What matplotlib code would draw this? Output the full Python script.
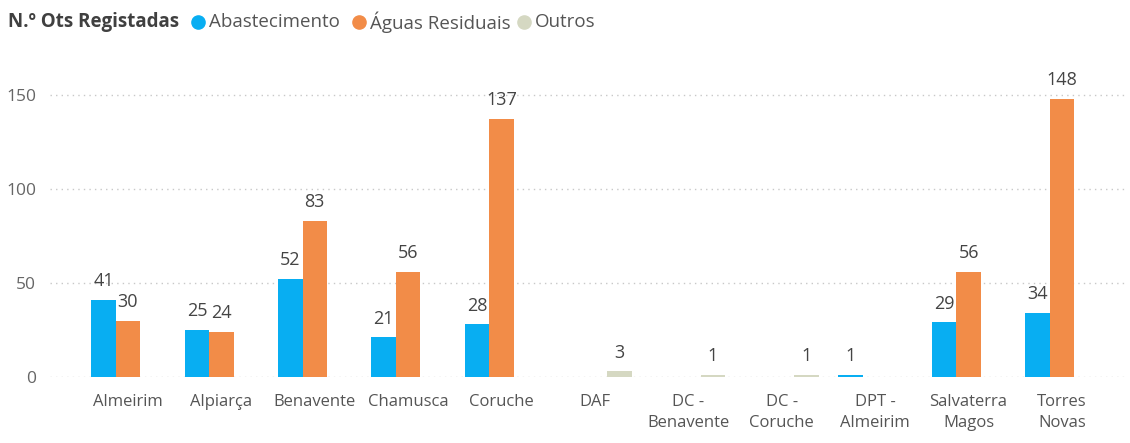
import numpy as np
import matplotlib.pyplot as plt
from matplotlib.lines import Line2D

categories = ['Almeirim', 'Alpiarça', 'Benavente', 'Chamusca', 'Coruche', 'DAF',
              'DC -\nBenavente', 'DC -\nCoruche', 'DPT -\nAlmeirim', 'Salvaterra\nMagos',
              'Torres\nNovas']
abastecimento = [41, 25, 52, 21, 28, 0, 0, 0, 1, 29, 34]
aguas_residuais = [30, 24, 83, 56, 137, 0, 0, 0, 0, 56, 148]
outros = [0, 0, 0, 0, 0, 3, 1, 1, 0, 0, 0]

series = [('Abastecimento', abastecimento, '#08AEF2'),
          ('Águas Residuais', aguas_residuais, '#F28C48'),
          ('Outros', outros, '#D5D8C2')]

plt.rcParams['font.family'] = ['Open Sans', 'DejaVu Sans']

W, H = 1130, 443
fig = plt.figure(figsize=(W / 100, H / 100), dpi=100)
ax = fig.add_axes([50 / W, (H - 377) / H, 1075 / W, 318 / H])

x = np.arange(len(categories))
width = 0.262
for i, (name, vals, color) in enumerate(series):
    pos = x + (i - 1) * width
    ax.bar(pos, vals, width=width, color=color, zorder=3)
    for xp, v in zip(pos, vals):
        if v > 0:
            ax.annotate(str(v), (xp, v), xytext=(0, 7), textcoords='offset points',
                        ha='center', va='bottom', fontsize=13, color='#444444')

ax.set_xlim((50 - 128) / 93.4, (1125 - 128) / 93.4)
ax.set_ylim(0, 169)
ax.set_yticks([0, 50, 100, 150])
ax.set_xticks(x)
ax.set_xticklabels(categories, fontsize=12, color='#555555', linespacing=1.45)
ax.tick_params(axis='y', labelsize=12.5, labelcolor='#666666', length=0, pad=10)
ax.tick_params(axis='x', length=0, pad=12)
ax.grid(axis='y', color='#C8C8C8', linestyle=(0, (1, 3)), linewidth=1, zorder=0)
for s in ax.spines.values():
    s.set_visible(False)

# title + legend row
ty = 1 - 22 / H
fig.text(8 / W, ty, 'N.º Ots Registadas', fontsize=13.5, fontweight='bold',
         color='#404040', va='center')
marker_x = [198, 359, 524]
for (name, vals, color), px in zip(series, marker_x):
    fig.add_artist(Line2D([px / W], [ty], marker='o', markersize=9.5,
                          color=color, transform=fig.transFigure))
    fig.text((px + 11) / W, ty, name, fontsize=13.5, color='#555555', va='center')

plt.savefig('out.png', dpi=100)
